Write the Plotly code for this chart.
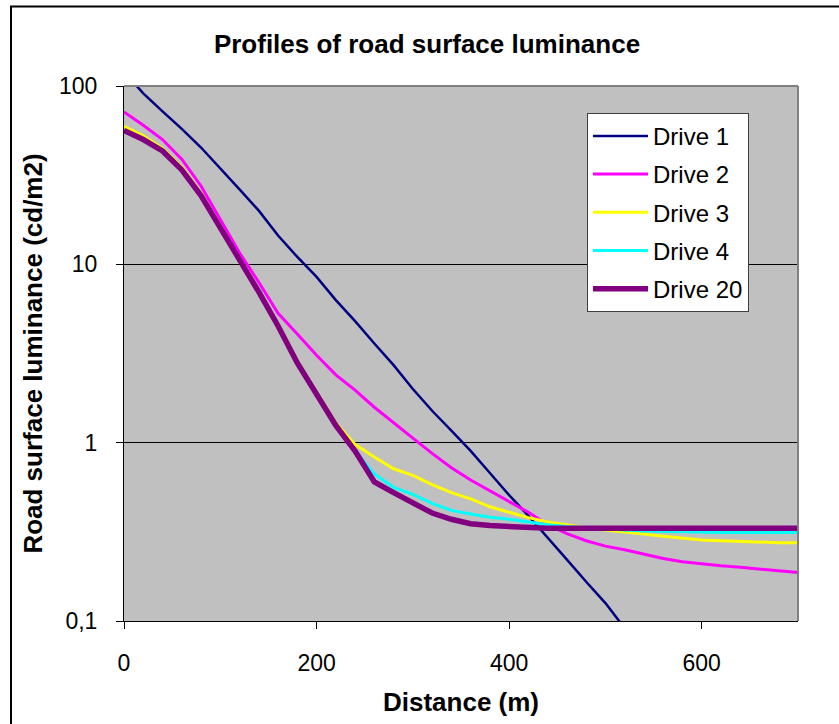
import plotly.graph_objects as go

distance = list(range(0, 701, 20))

drive1 = [120, 91, 72, 57.5, 45.2, 34.7, 26.3, 20.0, 14.5, 11.0, 8.5, 6.3, 4.8, 3.6,
          2.72, 2.0, 1.51, 1.17, 0.90, 0.676, 0.508, 0.389, 0.295, 0.221, 0.166, 0.126, 0.091]
drive2 = [71.6, 60.3, 50.1, 38.9, 27.5, 17.8, 11.6, 7.94, 5.31, 4.07, 3.09, 2.40, 1.97, 1.58,
          1.29, 1.06, 0.871, 0.724, 0.617, 0.537, 0.468, 0.407, 0.347, 0.309, 0.282, 0.263,
          0.251, 0.237, 0.224, 0.215, 0.209, 0.204, 0.200, 0.195, 0.191, 0.187]
drive3 = [59.4, 52.5, 44.7, 35.1, 25.1, 16.4, 10.8, 7.16, 4.61, 2.86, 1.91, 1.29, 0.977, 0.83,
          0.714, 0.656, 0.582, 0.525, 0.484, 0.437, 0.407, 0.380, 0.359, 0.345, 0.333, 0.324,
          0.314, 0.307, 0.299, 0.292, 0.285, 0.282, 0.279, 0.277, 0.275, 0.275]
drive4 = [56.4, 50.1, 43.2, 33.9, 24.3, 15.8, 10.6, 7.0, 4.51, 2.80, 1.87, 1.25, 0.897, 0.668,
          0.562, 0.513, 0.457, 0.417, 0.398, 0.382, 0.372, 0.359, 0.347, 0.339, 0.333, 0.327,
          0.324, 0.320, 0.318, 0.316, 0.314, 0.314, 0.314, 0.314, 0.314, 0.314]
drive20 = [56.4, 50.1, 43.2, 33.9, 24.3, 15.8, 10.6, 7.0, 4.51, 2.80, 1.87, 1.25, 0.897, 0.603,
           0.525, 0.457, 0.403, 0.372, 0.351, 0.343, 0.337, 0.331, 0.331, 0.331, 0.331, 0.331,
           0.331, 0.331, 0.331, 0.331, 0.331, 0.331, 0.331, 0.331, 0.331, 0.331]

series_names = ["Drive 1", "Drive 2", "Drive 3", "Drive 4", "Drive 20"]
series_values = [drive1, drive2, drive3, drive4, drive20]
colors = ["#000080", "#FF00FF", "#FFFF00", "#00FFFF", "#800080"]
widths = [2.5, 3, 3, 3, 5.5]

y_tickvals = [0.1, 1, 10, 100]
y_ticktext = ["0,1", "1", "10", "100"]
x_tickvals = [0, 200, 400, 600]

FONT = "Liberation Sans, Arial, sans-serif"

fig = go.Figure()
for name, vals, c, w in zip(series_names, series_values, colors, widths):
    fig.add_trace(go.Scatter(x=distance[:len(vals)], y=vals, mode="lines", name=name,
                             legendgroup=name,
                             line=dict(color=c, width=w)))

# plot area: x 124..798, y 86..625
L, R, T, B = 124, 798, 86, 625
W, H = 839, 724
pw, ph = R - L, B - T

def px(x):
    return (x - L) / pw

def py(y):
    return (B - y) / ph

fig.update_layout(
    width=W, height=H,
    margin=dict(l=L, r=W - R, t=T, b=H - B),
    paper_bgcolor="white",
    plot_bgcolor="#C0C0C0",
    font=dict(family=FONT, size=23, color="black"),
    title=dict(text="<b>Profiles of road surface luminance</b>",
               x=427 / W, xanchor="center", xref="container",
               y=1 - 44 / H, yanchor="middle",
               font=dict(size=26, family=FONT, color="black")),
    showlegend=True,
    legend=dict(x=px(587), y=py(113), xanchor="left", yanchor="top",
                bgcolor="white", bordercolor="#404040", borderwidth=1,
                font=dict(size=24, family=FONT, color="black"),
                tracegroupgap=4, itemwidth=55,
                entrywidth=102, entrywidthmode="pixels"),
    xaxis=dict(range=[0, 700], tickvals=x_tickvals, ticks="outside", ticklen=7,
               tickcolor="black", showline=True, linecolor="black", linewidth=1,
               showgrid=False, zeroline=False, ticklabelstandoff=14,
               tickfont=dict(size=23),
               title=dict(text="<b>Distance (m)</b>", font=dict(size=26), standoff=18)),
    yaxis=dict(type="log", range=[-1, 2], tickvals=y_tickvals, ticktext=y_ticktext,
               ticks="outside", ticklen=7, tickcolor="black", showline=True,
               linecolor="black", linewidth=1, showgrid=True, gridcolor="black",
               gridwidth=1, zeroline=False, ticklabelstandoff=14,
               tickfont=dict(size=23),
               title=dict(text="<b>Road surface luminance (cd/m2)</b>",
                          font=dict(size=26), standoff=8)),
    shapes=[
        dict(type="line", xref="paper", yref="paper", x0=0, x1=1, y0=1, y1=1,
             line=dict(color="#808080", width=2)),
        dict(type="line", xref="paper", yref="paper", x0=1, x1=1, y0=0, y1=1,
             line=dict(color="#808080", width=2)),
        dict(type="rect", xref="paper", yref="paper", x0=px(11), x1=px(850),
             y0=py(735), y1=py(6), line=dict(color="black", width=2),
             fillcolor="rgba(0,0,0,0)", layer="above"),
    ],
)

fig.write_html("out.html", config={"displayModeBar": False},
               post_script="document.body.style.margin='0';document.body.style.padding='0';")
